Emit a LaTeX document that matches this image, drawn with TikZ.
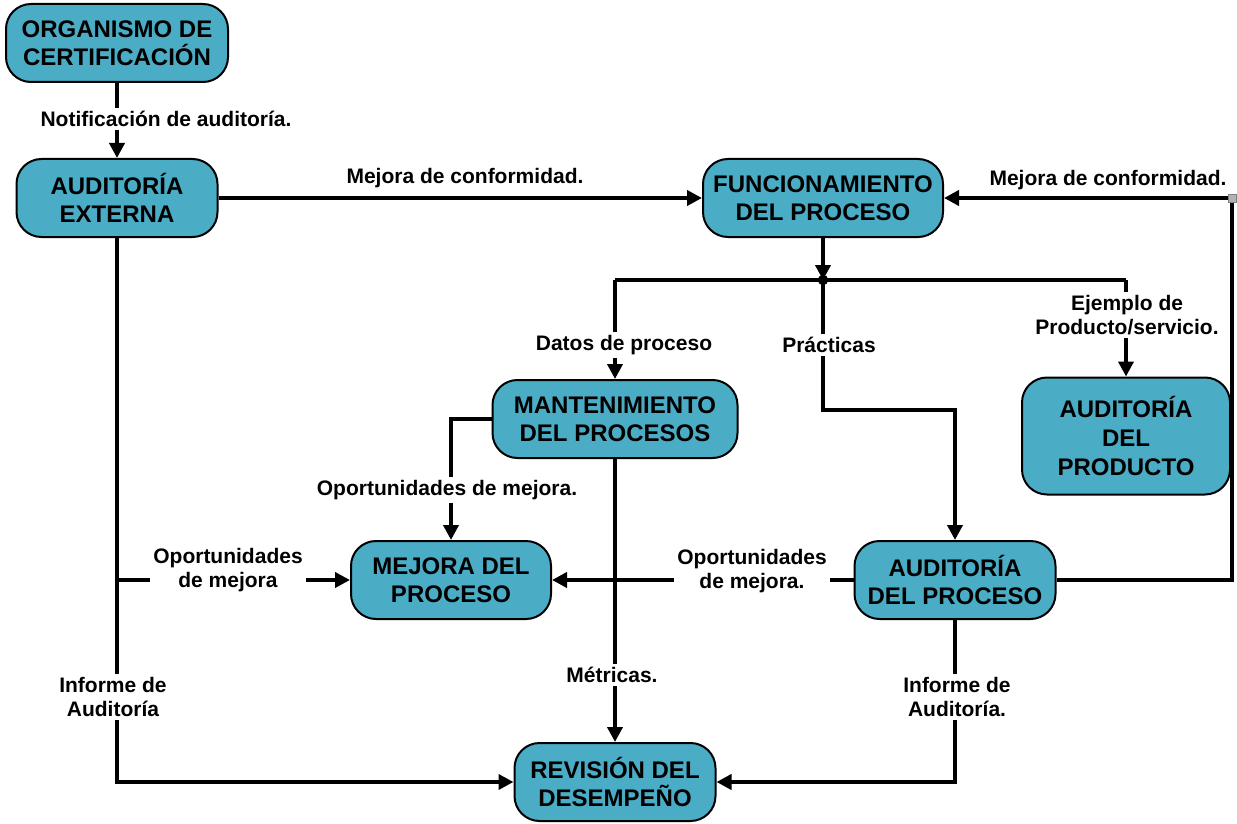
\documentclass[tikz,border=0pt]{standalone}
\usepackage{fontspec}
\setmainfont{Liberation Sans}
\usetikzlibrary{arrows.meta}
\definecolor{boxfill}{HTML}{4BACC6}
\begin{document}
\begin{tikzpicture}[x=0.5pt,y=-0.5pt,
  box/.style={draw=black,line width=1pt,fill=boxfill,rounded corners=12.5pt,
    align=center,inner sep=0pt,font=\bfseries\fontsize{12}{14}\selectfont},
  conn/.style={line width=2pt,-{Triangle[length=7.5pt,width=7.5pt]}},
  plain/.style={line width=2pt},
  lbl/.style={fill=white,align=center,inner sep=1.5pt,
    font=\bfseries\fontsize{10.5}{12}\selectfont}]
\useasboundingbox (0,0) rectangle (1237,824);

% boxes
\node[box,minimum width=111pt,minimum height=39pt] (org) at (117,43) {ORGANISMO DE\\CERTIFICACIÓN};
\node[box,minimum width=100.5pt,minimum height=39pt] (audext) at (117,198) {AUDITORÍA\\EXTERNA};
\node[box,minimum width=120pt,minimum height=39pt] (func) at (823,198) {FUNCIONAMIENTO\\DEL PROCESO};
\node[box,minimum width=122.5pt,minimum height=39pt] (mant) at (615,419) {MANTENIMIENTO\\DEL PROCESOS};
\node[box,minimum width=104pt,minimum height=58.5pt,font=\bfseries\fontsize{12}{14.7}\selectfont] (audprod) at (1126,436) {AUDITORÍA\\DEL\\PRODUCTO};
\node[box,minimum width=100pt,minimum height=39pt] (mejora) at (451,580) {MEJORA DEL\\PROCESO};
\node[box,minimum width=100.5pt,minimum height=39pt] (audproc) at (955,580) {AUDITORÍA\\DEL PROCESO};
\node[box,minimum width=100.5pt,minimum height=39pt] (rev) at (615,782) {REVISIÓN DEL\\DESEMPEÑO};

% helper points
\coordinate (rc) at (1232,198);
\coordinate (j) at (823,280);
\coordinate (jl) at (615,280);
\coordinate (jr) at (1126,280);
\coordinate (pk) at (823,410);
\coordinate (b) at (117,580);

% connectors
\draw[conn] (org.south) -- (audext.north);
\draw[conn] (audext.east) -- (func.west);
\draw[conn] (audproc.east) -| (rc) -- (func.east);
\draw[conn] (func.south) -- (j);
\draw[plain] (jl) -- (jr);
\draw[conn] (jl) -- (mant.north);
\draw[conn] (jr) -- (audprod.north);
\draw[conn] (j) -- (pk) -| (audproc.north);
\draw[conn] (mant.west) -| (mejora.north);
\draw[conn] (mant.south) -- (rev.north);
\draw[conn] (audext.south) |- (rev.west);
\draw[conn] (b) -- (mejora.west);
\draw[conn] (audproc.west) -- (mejora.east);
\draw[conn] (audproc.south) |- (rev.east);
\fill (j) circle (2.6pt);
\node[fill=gray!60,draw=gray,line width=0.3pt,minimum size=4pt,inner sep=0pt] (rcm) at (rc) {};

% labels
\node[lbl] (l1) at (166,119) {Notificación de auditoría.};
\node[lbl] (l2) at (465,178) {Mejora de conformidad.};
\node[lbl] (l3) at (1108,180) {Mejora de conformidad.};
\node[lbl] (l4) at (624,345) {Datos de proceso};
\node[lbl] (l5) at (829,345) {Prácticas};
\node[lbl] (l6) at (1127,315) {Ejemplo de\\Producto/servicio.};
\node[lbl] (l7) at (447,490) {Oportunidades de mejora.};
\node[lbl] (l8) at (228,570) {Oportunidades\\de mejora};
\node[lbl] (l9) at (752,571) {Oportunidades\\de mejora.};
\node[lbl] (l10) at (612,675) {Métricas.};
\node[lbl] (l11) at (113,697) {Informe de\\Auditoría};
\node[lbl] (l12) at (957,697) {Informe de\\Auditoría.};
\end{tikzpicture}
\end{document}
